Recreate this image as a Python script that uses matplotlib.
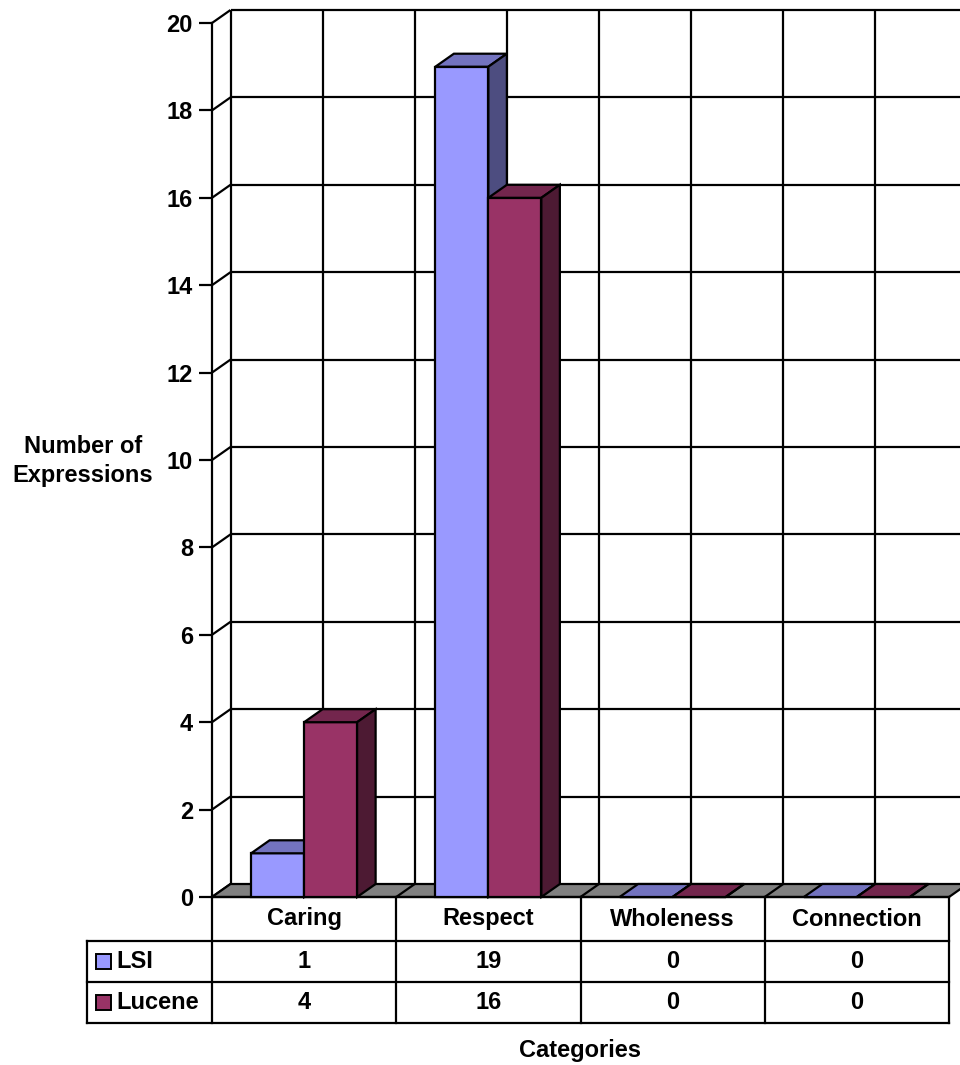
import matplotlib
matplotlib.use("Agg")
import matplotlib.pyplot as plt
from matplotlib.patches import Polygon, Rectangle
from matplotlib.transforms import blended_transform_factory

plt.rcParams['font.family'] = ['Liberation Sans', 'DejaVu Sans']
plt.rcParams['font.weight'] = 'bold'

# ---- data ----
categories = ["Caring", "Respect", "Wholeness", "Connection"]
series_names = ["LSI", "Lucene"]
lsi_values = [1, 19, 0, 0]
lucene_values = [4, 16, 0, 0]
y_ticks = list(range(0, 21, 2))
y_label = "Number of\nExpressions"
x_label = "Categories"

# ---- style ----
W, H = 960, 1065
FS = 17
LW = 1.6
front_colors = ["#9999FF", "#993366"]
top_colors = ["#7373BF", "#73264D"]
side_colors = ["#4D4D80", "#4D1A33"]
floor_color = "#808080"

fig = plt.figure(figsize=(W / 100, H / 100), dpi=100)
fig.patch.set_facecolor("white")


def fx(px):
    return px / W


def fy(py):
    return 1 - py / H


# plot area: front plane in pixels
ax_left, ax_right, ax_top, ax_bottom = 212, 949, 23, 897
ax = fig.add_axes([fx(ax_left), fy(ax_bottom), fx(ax_right - ax_left),
                   (ax_bottom - ax_top) / H])
ax.set_xlim(0, len(categories))
ax.set_ylim(0, 20)
ax.set_facecolor("none")
for s in ["top", "right", "bottom"]:
    ax.spines[s].set_visible(False)
ax.spines["left"].set_linewidth(LW)
ax.set_xticks([])
ax.set_yticks(y_ticks)
ax.tick_params(axis="y", direction="out", length=9.4, width=LW, pad=4.3,
               labelsize=FS)
for t in ax.get_yticklabels():
    t.set_fontweight("bold")

# depth offset of the 3D projection, converted from pixels into data units
px_per_x = (ax_right - ax_left) / len(categories)
px_per_y = (ax_bottom - ax_top) / 20
ddx = 18.5 / px_per_x
ddy = 13.0 / px_per_y

ncat = len(categories)
line_kw = dict(color="black", lw=LW, clip_on=False, solid_capstyle="butt")

# back wall gridlines
for v in y_ticks[1:]:
    ax.plot([ddx, ncat + ddx], [v + ddy, v + ddy], zorder=1, **line_kw)
for k in range(2 * ncat + 1):
    x = ddx + 0.5 * k
    ax.plot([x, x], [ddy, 20 + ddy], zorder=1, **line_kw)
# left wall gridlines
for v in y_ticks:
    ax.plot([0, ddx], [v, v + ddy], zorder=1, **line_kw)

# floor
ax.add_patch(Polygon([(0, 0), (ncat, 0), (ncat + ddx, ddy), (ddx, ddy)],
                     closed=True, facecolor=floor_color, edgecolor="black",
                     lw=LW, zorder=2, clip_on=False))
for k in range(1, ncat):
    ax.plot([k, k + ddx], [0, ddy], zorder=2.5, **line_kw)

# bars
bar_w = 53 / px_per_x
series = [lsi_values, lucene_values]
z = 3
for i in range(ncat):
    for j, vals in enumerate(series):
        h = vals[i]
        x0 = i + 0.5 - bar_w + j * bar_w
        x1 = x0 + bar_w
        ax.bar([x0], [h], width=bar_w, align="edge", color=front_colors[j],
               edgecolor="black", linewidth=LW, zorder=z, clip_on=False)
        ax.add_patch(Polygon([(x0, h), (x1, h), (x1 + ddx, h + ddy),
                              (x0 + ddx, h + ddy)], closed=True,
                             facecolor=top_colors[j], edgecolor="black",
                             lw=LW, zorder=z, clip_on=False))
        ax.add_patch(Polygon([(x1, 0), (x1 + ddx, ddy), (x1 + ddx, h + ddy),
                              (x1, h)], closed=True, facecolor=side_colors[j],
                             edgecolor="black", lw=LW, zorder=z,
                             clip_on=False))
        z += 0.1

# ---- data table below the plot ----
tr = blended_transform_factory(ax.transData, fig.transFigure)
row_edges = [897, 941, 982, 1023]
left_col = (87 - ax_left) / px_per_x

tline = dict(color="black", lw=LW, transform=tr, clip_on=False,
             solid_capstyle="projecting")
# horizontal lines
ax.plot([0, ncat], [fy(row_edges[0])] * 2, **tline)
for r in row_edges[1:]:
    ax.plot([left_col, ncat], [fy(r)] * 2, **tline)
# vertical lines
for k in range(ncat + 1):
    ax.plot([k, k], [fy(row_edges[0]), fy(row_edges[-1])], **tline)
ax.plot([left_col, left_col], [fy(row_edges[1]), fy(row_edges[-1])], **tline)

# header row
hy = fy((row_edges[0] + row_edges[1]) / 2)
for i, c in enumerate(categories):
    ax.text(i + 0.5, hy, c, transform=tr, ha="center", va="center",
            fontsize=FS, fontweight="bold")

# series rows with legend keys
for r, (name, vals) in enumerate(zip(series_names, series)):
    cy = (row_edges[r + 1] + row_edges[r + 2]) / 2
    for i, v in enumerate(vals):
        ax.text(i + 0.5, fy(cy), str(v), transform=tr, ha="center",
                va="center", fontsize=FS, fontweight="bold")
    key = 15
    fig.patches.append(Rectangle((fx(96), fy(cy + key / 2)), key / W, key / H,
                                 transform=fig.transFigure,
                                 facecolor=front_colors[r], edgecolor="black",
                                 lw=1.4))
    fig.text(fx(116), fy(cy), name, ha="left", va="center", fontsize=FS,
             fontweight="bold")

# axis titles
fig.text(fx(83), fy(461), y_label, ha="center", va="center", fontsize=FS,
         fontweight="bold", linespacing=1.3)
fig.text(fx(580), fy(1050), x_label, ha="center", va="center", fontsize=FS,
         fontweight="bold")

fig.savefig("out.png", dpi=100, facecolor="white")
